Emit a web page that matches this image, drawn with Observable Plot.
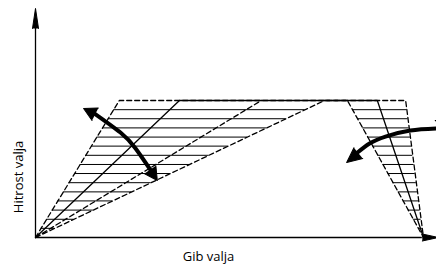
<!DOCTYPE html>
<html><head><meta charset="utf-8">
<script src="https://cdn.jsdelivr.net/npm/d3@7"></script>
<script src="https://cdn.jsdelivr.net/npm/@observablehq/plot@0.6"></script>
<style>
body{margin:0;background:#fff;overflow:hidden}
svg{overflow:visible}
</style>
</head><body><div id="chart"></div>
<script>
// Stroke position (% of stroke) vs. speed (% of max speed)
const solidCurveX = [0, 37.1, 88.1, 100];
const solidCurveY = [0, 100, 100, 0];
const outerCurveX = [0, 21.6, 95.4, 100];
const outerCurveY = [0, 100, 100, 0];
const innerCurveX = [0, 74.5, 80.4, 100];
const innerCurveY = [0, 100, 100, 0];
const middleLineX = [0, 58.2];
const middleLineY = [0, 100];
const hatchLevels = [6.7, 13.3, 20, 26.7, 33.3, 40, 46.7, 53.3, 60, 66.7, 73.3, 80, 86.7, 93.3];
const axisTopY = 152.6;
const axisEndX = 99.7;
// curved adjustment arrows
const leftArrowX = [15.2, 21.9, 25.8, 29.9];
const leftArrowY = [90.5, 76.6, 65.0, 48.2];
const leftHeadsX = [12.4, 31.4];
const leftHeadsY = [94.2, 41.6];
const rightArrowX = [83.0, 86.1, 90.2, 96.6, 103.4];
const rightArrowY = [62.0, 68.6, 73.7, 78.1, 79.6];
const rightHeadX = [80.2];
const rightHeadY = [54.7];
const rightHead2X = [103.9];
const rightHead2Y = [81.0];
const xLabel = "Gib valja";
const yLabel = "Hitrost valja";

const pts = (xs, ys) => xs.map((x, i) => ({x, y: ys[i]}));
const rise = (xs, ys) => d3.scaleLinear([ys[0], ys[1]], [xs[0], xs[1]]);
const fall = (xs, ys) => d3.scaleLinear([ys[2], ys[3]], [xs[2], xs[3]]);

const leftOuter = rise(outerCurveX, outerCurveY), leftInner = rise(innerCurveX, innerCurveY);
const rightOuter = fall(outerCurveX, outerCurveY), rightInner = fall(innerCurveX, innerCurveY);
const hatch = hatchLevels.flatMap(l => [
  {y: l, x1: leftOuter(l), x2: leftInner(l)},
  {y: l, x1: rightInner(l), x2: rightOuter(l)}
]);

const font = "'Open Sans', 'Noto Sans', sans-serif";
const dash = {stroke: "black", strokeWidth: 1.3, strokeDasharray: "5,3"};
const head = {x: "x", y: "y", shape: "spike", fill: "black", stroke: "black", strokeWidth: 1, fillOpacity: 1};

const chart = Plot.plot({
  width: 436, height: 269,
  marginLeft: 35, marginRight: 13, marginTop: 100, marginBottom: 32,
  x: {domain: [0, 100], axis: null},
  y: {domain: [0, 100], axis: null},
  style: {overflow: "visible", background: "white"},
  marks: [
    Plot.ruleY(hatch, {y: "y", x1: "x1", x2: "x2", stroke: "black", strokeWidth: 1}),
    Plot.line(pts(outerCurveX, outerCurveY), {x: "x", y: "y", ...dash}),
    Plot.line(pts(innerCurveX, innerCurveY), {x: "x", y: "y", ...dash}),
    Plot.line(pts(middleLineX, middleLineY), {x: "x", y: "y", ...dash}),
    Plot.line(pts(solidCurveX, solidCurveY), {x: "x", y: "y", stroke: "black", strokeWidth: 1.3}),
    Plot.ruleX([0], {y1: 0, y2: axisTopY, stroke: "black", strokeWidth: 1.3}),
    Plot.ruleY([0], {x1: 0, x2: axisEndX, stroke: "black", strokeWidth: 1.3}),
    Plot.vector([{x: 0, y: axisTopY}], {...head, anchor: "start", rotate: 0, length: 20, r: 3}),
    Plot.vector([{x: axisEndX, y: 0}], {...head, anchor: "start", rotate: 90, length: 16, r: 3.5}),
    Plot.line(pts(leftArrowX, leftArrowY), {x: "x", y: "y", curve: "natural", stroke: "black", strokeWidth: 4}),
    Plot.vector(pts(leftHeadsX, leftHeadsY).map((d, i) => ({...d, r: [-63, 146][i]})), {...head, rotate: "r", anchor: "end", length: 13, r: 7}),
    Plot.line(pts(rightArrowX, rightArrowY), {x: "x", y: "y", curve: "natural", stroke: "black", strokeWidth: 4}),
    Plot.vector(pts(rightHeadX, rightHeadY), {...head, rotate: -129, anchor: "end", length: 15, r: 7}),
    Plot.vector(pts(rightHead2X, rightHead2Y), {...head, rotate: 60, anchor: "start", length: 14, r: 7}),
    Plot.text([xLabel], {frameAnchor: "bottom", text: d => d, dx: -21, dy: 19.5, fontSize: 13, fontFamily: font, fill: "black", lineAnchor: "middle", textAnchor: "middle"}),
    Plot.text([yLabel], {frameAnchor: "left", text: d => d, rotate: -90, dx: -16.5, dy: 8, fontSize: 13, fontFamily: font, fill: "black", lineAnchor: "middle", textAnchor: "middle"})
  ]
});
document.getElementById("chart").appendChild(chart);
</script>
</body></html>
